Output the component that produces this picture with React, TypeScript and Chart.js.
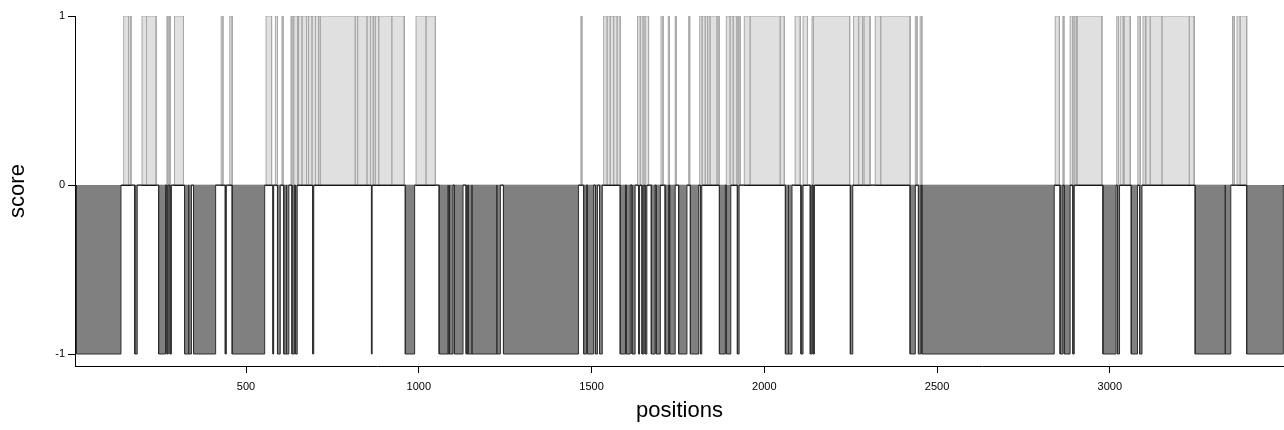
import React, { useEffect, useRef } from "react";
import { Chart, registerables } from "chart.js";

Chart.register(...registerables);

// score = +1 segments (start, end positions)
const posStarts = [146, 160, 199, 212, 271, 278, 293, 428, 453, 558, 585, 604, 630, 633, 638, 649, 652, 662, 675, 681, 691, 701, 710, 715, 816, 823, 850, 860, 868, 874, 884, 922, 992, 1021, 1469, 1535, 1545, 1554, 1564, 1574, 1633, 1641, 1649, 1655, 1701, 1722, 1742, 1781, 1813, 1820, 1829, 1836, 1843, 1863, 1890, 1901, 1910, 1925, 1942, 1959, 2046, 2089, 2112, 2138, 2142, 2258, 2273, 2289, 2321, 2337, 2437, 2451, 2842, 2864, 2885, 2897, 2906, 3020, 3030, 3042, 3081, 3096, 3105, 3117, 3151, 3230, 3355, 3368, 3377];
const posEnds = [160, 167, 212, 240, 274, 281, 319, 433, 460, 574, 591, 607, 633, 638, 649, 652, 662, 675, 681, 691, 701, 710, 715, 816, 823, 850, 860, 868, 874, 884, 922, 958, 1021, 1048, 1472, 1545, 1554, 1564, 1574, 1583, 1641, 1649, 1655, 1665, 1707, 1725, 1745, 1784, 1820, 1829, 1836, 1843, 1863, 1869, 1901, 1910, 1921, 1930, 1959, 2046, 2058, 2104, 2125, 2142, 2247, 2273, 2285, 2306, 2337, 2422, 2442, 2456, 2854, 2867, 2893, 2903, 2977, 3025, 3039, 3059, 3088, 3103, 3117, 3151, 3230, 3244, 3360, 3377, 3396];

// score = -1 segments (start, end positions)
const negStarts = [9, 178, 247, 271, 280, 322, 334, 348, 440, 460, 578, 591, 609, 617, 633, 643, 693, 863, 961, 1059, 1085, 1089, 1103, 1137, 1143, 1154, 1226, 1245, 1477, 1488, 1511, 1523, 1583, 1600, 1617, 1636, 1646, 1655, 1673, 1687, 1713, 1726, 1752, 1786, 1815, 1870, 1890, 1922, 2061, 2070, 2106, 2133, 2141, 2249, 2422, 2446, 2456, 2856, 2868, 2893, 2980, 3022, 3062, 3086, 3247, 3334, 3396];
const negEnds = [138, 185, 267, 275, 284, 334, 342, 412, 443, 554, 580, 599, 617, 624, 640, 648, 696, 865, 988, 1085, 1089, 1099, 1128, 1142, 1154, 1226, 1236, 1462, 1485, 1506, 1517, 1531, 1598, 1612, 1626, 1639, 1651, 1660, 1684, 1699, 1723, 1742, 1776, 1810, 1819, 1887, 1903, 1927, 2070, 2080, 2112, 2138, 2145, 2256, 2437, 2453, 2839, 2864, 2885, 2897, 3018, 3028, 3080, 3093, 3334, 3350, 3502];

const xTicks = [500, 1000, 1500, 2000, 2500, 3000];
const yTicks = [-1, 0, 1];
const X_MIN = 5;
const X_MAX = 3504;
const Y_MIN = -1.071;
const Y_MAX = 1;

function stepPoints(starts: number[], ends: number[], v: number) {
  const pts: { x: number; y: number }[] = [];
  for (let i = 0; i < starts.length; i++) {
    pts.push({ x: starts[i], y: 0 }, { x: starts[i], y: v }, { x: ends[i], y: v }, { x: ends[i], y: 0 });
  }
  return pts;
}

const FONT = "'Liberation Sans', Arial, Helvetica, sans-serif";

export default function App() {
  const ref = useRef<HTMLCanvasElement | null>(null);

  useEffect(() => {
    if (!ref.current) return;
    const chart = new Chart(ref.current, {
      type: "line",
      data: {
        datasets: [
          {
            data: stepPoints(negStarts, negEnds, -1),
            borderColor: "#2e2e2e",
            backgroundColor: "#808080",
            borderWidth: 1,
            fill: "origin",
            pointRadius: 0,
            tension: 0,
          },
          {
            data: stepPoints(posStarts, posEnds, 1),
            borderColor: "#a8a8a8",
            backgroundColor: "#e0e0e0",
            borderWidth: 1,
            fill: "origin",
            pointRadius: 0,
            tension: 0,
          },
        ],
      },
      options: {
        animation: false,
        responsive: false,
        events: [],
        layout: { padding: { top: 16, right: 0, bottom: 0, left: 0 } },
        plugins: { legend: { display: false }, tooltip: { enabled: false } },
        scales: {
          x: {
            type: "linear",
            min: X_MIN,
            max: X_MAX,
            afterBuildTicks: (s: any) => {
              s.ticks = xTicks.map((v) => ({ value: v }));
            },
            afterFit: (s: any) => {
              s.height = 64;
            },
            grid: { drawOnChartArea: false, tickLength: 7, tickColor: "#000", color: "#000" },
            border: { color: "#000", width: 1 },
            ticks: {
              color: "#000",
              font: { family: FONT, size: 11 },
              padding: 7,
              maxRotation: 0,
              autoSkip: false,
              callback: (v: any) => String(v),
            },
            title: {
              display: true,
              text: "positions",
              color: "#000",
              font: { family: FONT, size: 22 },
              padding: { top: 0, bottom: 6 },
            },
          },
          y: {
            type: "linear",
            min: Y_MIN,
            max: Y_MAX,
            afterBuildTicks: (s: any) => {
              s.ticks = yTicks.map((v) => ({ value: v }));
            },
            afterFit: (s: any) => {
              s.width = 75;
            },
            grid: {
              color: (c: any) => (c.tick && c.tick.value === 0 ? "#000" : "rgba(0,0,0,0)"),
              tickColor: "#000",
              tickLength: 7,
              lineWidth: 1,
            },
            border: { color: "#000", width: 1 },
            ticks: {
              color: "#000",
              font: { family: FONT, size: 11 },
              padding: 3,
              callback: (v: any) => String(v),
            },
            title: {
              display: true,
              text: "score",
              color: "#000",
              font: { family: FONT, size: 22 },
              padding: { top: 5, bottom: 0 },
            },
          },
        },
      },
    });
    return () => chart.destroy();
  }, []);

  return (
    <div style={{ position: "absolute", left: 0, top: 0, width: 1284, height: 430, background: "#fff" }}>
      <canvas ref={ref} width={1284} height={430} style={{ display: "block" }} />
    </div>
  );
}
